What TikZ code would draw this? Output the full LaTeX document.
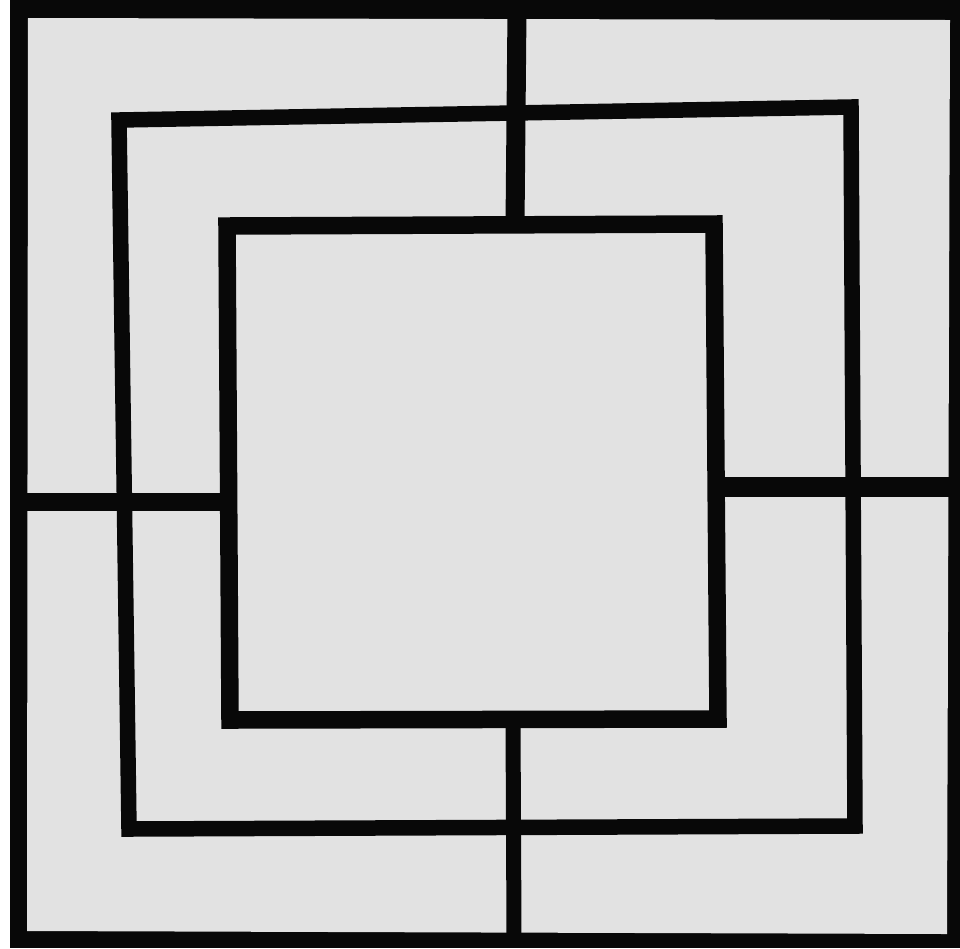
\documentclass[tikz,border=0pt]{standalone}
\definecolor{paper}{RGB}{226,226,226}
\definecolor{ink}{RGB}{8,8,8}
\begin{document}
\begin{tikzpicture}[x=0.1mm,y=-0.1mm,
  boardline/.style={draw=ink,line join=miter,line cap=butt}]
\useasboundingbox (0,0) rectangle (960,948);
\fill[white] (0,0) rectangle (960,948);
% outer frame
\fill[ink] (10,0) -- (960,0) -- (960,948) -- (10,948) -- cycle;
\fill[paper] (28,18) -- (950,20) -- (947,934) -- (27,931) -- cycle;
% named corners
\coordinate (mTL) at (119,120);
\coordinate (mTR) at (851,107);
\coordinate (mBR) at (855,826);
\coordinate (mBL) at (129,829);
\coordinate (iTL) at (227,226);
\coordinate (iTR) at (714,224);
\coordinate (iBR) at (718,719);
\coordinate (iBL) at (230,720);
% cross lines
\draw[boardline,line width=1.9mm] (517,10) -- (515,226);
\draw[boardline,line width=1.5mm] (513,719) -- (514,935);
\draw[boardline,line width=1.8mm] (19,502) -- (228,502);
\draw[boardline,line width=2.0mm] (716,487) -- (952,487);
% middle square
\draw[boardline,line width=1.55mm] (mTL) -- (mTR) -- (mBR) -- (mBL) -- cycle;
% inner square
\draw[boardline,line width=1.75mm] (iTL) -- (iTR) -- (iBR) -- (iBL) -- cycle;
\end{tikzpicture}
\end{document}
